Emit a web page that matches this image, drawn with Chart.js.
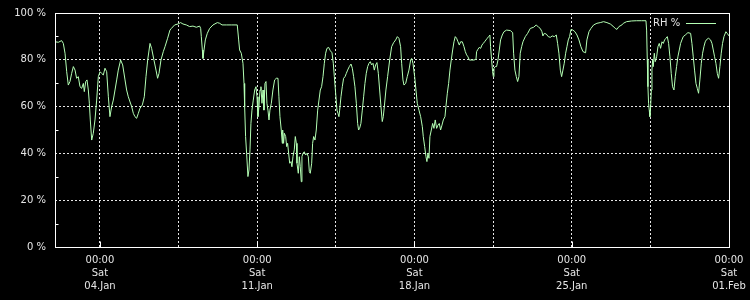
<!DOCTYPE html>
<html>
<head>
<meta charset="utf-8">
<script src="https://cdn.jsdelivr.net/npm/chart.js@4/dist/chart.umd.min.js"></script>
<style>
html,body{margin:0;padding:0;background:#000;}
#wrap{width:750px;height:300px;position:relative;}
canvas{display:block;background:#000;}
</style>
</head>
<body>
<div id="wrap"><canvas id="c" width="750" height="300"></canvas></div>
<script>
// hours since Thu 02.Jan 00:00
const hours = [
0,3.6,7.1,8.9,10.7,12.5,14.2,16.0,17.8,19.6,21.4,23.1,24.9,26.7,28.5,30.3,31.3,32.8,34.2,35.6,36.7,37.7,39.2,40.9,42.7,44.5,46.3,48.1,49.8,51.6,53.4,55.2,57.0,58.7,60.5,62.3,64.1,65.9,67.6,70.1,72.3,74.8,76.5,78.3,81.9,83.7,85.4,87.2,89.0,90.8,93.3,95.4,97.2,99.0,101.5,103.2,105.7,107.9,109.6,111.1,113.2,115.7,117.5,120.3,122.8,
124.3,127.8,131.4,134.2,136.7,140.3,143.8,147.4,151.0,154.5,155.6,156.3,157.4,158.1,159.2,160.6,162.7,165.2,168.8,173.4,175.9,178.4,183.0,188.3,194.7,196.2,197.2,199.0,200.8,201.9,202.6,203.6,204.7,206.1,207.2,208.3,209.3,210.4,211.8,213.3,214.7,215.8,216.8,217.9,219.0,220.0,221.1,222.2,223.2,224.3,225.4,226.4,227.5,228.6,229.6,231.1,232.8,234.6,236.4,238.2,239.2,240.3,241.7,242.8,
243.2,244.2,245.0,246.4,247.5,248.5,249.6,250.7,252.1,253.1,254.2,255.6,256.7,257.8,258.5,259.9,261.0,262.0,263.1,263.8,264.9,266.3,267.7,269.2,270.6,271.7,272.7,274.2,275.2,276.3,277.7,279.1,280.6,282.0,283.4,284.8,286.3,287.7,289.1,290.5,292.3,294.1,295.9,297.3,298.4,299.8,301.2,302.3,303.3,304.1,305.5,306.9,308.3,309.8,311.2,312.6,314.4,316.2,317.6,319.0,320.4,321.9,323.3,324.3,325.4,326.8,328.3,329.7,331.1,332.5,334.0,335.4,336.8,338.2,339.7,341.1,342.5,343.9,345.4,346.8,348.2,349.6,350.7,351.8,353.5,355.3,357.5,359.6,361.7,
363.9,365.7,367.4,369.2,370.3,371.7,372.8,374.6,376.3,378.1,379.9,381.0,382.4,384.2,385.6,387.0,388.8,390.6,392.4,393.4,394.9,396.3,397.3,398.4,399.5,400.5,402.0,403.4,404.8,406.2,407.7,409.1,410.5,411.9,413.4,414.8,416.6,417.6,419.1,420.5,421.9,423.3,424.8,426.2,427.6,429.0,430.5,431.9,433.3,435.1,436.9,438.3,439.7,441.1,442.6,444.7,447.5,449.7,450.4,451.8,453.2,454.7,456.1,457.5,458.9,460.4,461.8,463.2,464.6,465.3,466.4,467.5,468.2,468.9,470.3,471.7,473.2,474.6,476.0,477.8,479.6,482.4,
486.4,488.9,489.9,491.3,492.8,494.2,495.6,497.0,498.5,499.9,502.4,504.9,507.7,511.3,514.1,516.6,518.4,520.2,521.2,522.7,524.8,526.9,529.1,531.2,533.4,535.5,536.9,538.3,539.8,541.2,542.6,544.0,545.5,546.9,548.3,549.7,551.2,553.3,555.4,557.6,559.7,561.8,564.0,566.8,568.2,570.4,572.5,575.4,578.9,582.5,586.0,589.6,593.2,596.0,598.5,600.3,602.4,
605.6,607.1,610.6,616.0,621.3,626.6,631.3,632.0,632.7,633.4,634.1,634.8,635.5,636.3,637.0,637.7,638.4,639.1,640.2,641.2,642.7,644.1,645.5,646.9,648.4,649.8,651.2,652.6,654.1,655.5,656.9,658.3,659.7,661.2,662.6,664.0,665.4,666.9,668.3,669.7,671.1,673.3,676.1,679.0,680.4,681.8,683.2,684.7,686.1,687.5,688.9,690.4,691.8,693.2,694.6,696.1,698.2,700.3,701.8,703.2,704.6,706.0,707.5,708.9,710.3,711.7,713.1,714.6,716.7,718.1,720
];
const rh = [
87.7,87.5,88.2,87.0,82.8,74.9,69.2,70.7,74.2,77.1,75.6,72.1,72.8,68.5,67.8,69.9,66.4,70.7,71.4,67.1,61.4,54.3,45.7,48.6,54.3,62.8,72.8,74.9,74.2,73.5,76.4,74.9,64.2,55.7,60.0,62.8,67.1,71.4,75.6,79.9,77.8,71.4,67.1,64.2,60.0,57.1,55.7,55.0,57.1,59.3,60.7,64.2,72.8,79.9,87.0,84.9,79.9,75.6,72.1,74.2,79.9,83.5,85.6,89.2,92.7,
93.4,94.9,95.3,95.9,95.3,94.9,94.2,94.4,93.9,94.4,93.4,89.9,84.2,80.6,84.2,88.5,91.3,93.4,94.9,95.9,95.6,94.9,94.9,94.9,94.9,88.5,84.2,82.8,78.5,69.9,60.0,47.2,40.0,30.1,32.9,41.5,52.8,58.5,62.8,67.1,68.5,64.2,55.7,60.0,67.1,68.5,61.4,67.1,58.5,69.9,70.7,61.4,58.5,54.3,58.5,61.4,67.1,71.4,72.1,72.1,64.2,55.7,50.0,44.3,
50.0,44.3,48.6,47.2,42.9,44.3,40.0,35.8,36.5,34.3,38.6,41.5,47.2,44.3,35.8,31.5,38.6,34.3,27.9,38.6,40.0,40.7,39.3,40.0,38.6,32.2,31.5,35.8,44.3,47.2,45.7,50.0,58.5,62.8,67.1,68.5,72.8,78.5,82.8,84.9,85.3,83.9,83.0,78.5,72.8,65.7,58.5,57.1,55.7,58.5,64.2,68.5,72.1,72.8,74.2,75.6,77.1,78.2,76.4,72.8,68.5,61.4,52.8,50.0,50.7,52.8,58.5,64.2,69.9,74.2,77.1,78.5,79.2,77.8,78.5,75.6,77.8,78.8,74.2,67.1,60.0,53.6,55.7,60.0,67.1,72.8,79.9,85.6,87.3,
88.5,89.9,89.2,85.6,78.5,71.4,69.2,69.9,72.8,75.6,79.9,80.6,78.5,72.8,67.1,61.4,58.5,55.7,51.4,47.2,42.9,38.6,36.5,40.0,37.9,47.2,50.0,52.8,50.7,54.3,50.7,52.1,52.8,50.0,52.1,54.3,55.7,60.0,65.7,69.9,75.6,79.9,84.2,87.7,89.9,89.2,87.7,86.3,87.7,87.7,85.6,83.5,82.1,81.3,79.9,79.9,79.9,80.2,83.5,84.5,85.3,84.9,86.3,87.0,87.7,88.5,89.2,89.9,90.6,85.6,79.9,74.9,72.8,76.4,77.1,77.1,79.9,84.2,88.5,90.6,92.0,92.7,
92.5,91.6,82.8,75.6,72.8,70.7,72.8,82.8,85.6,87.7,89.9,91.3,93.4,93.9,94.9,93.9,93.4,92.0,90.2,91.3,91.0,89.9,89.6,90.2,89.9,90.6,87.0,82.8,75.6,72.8,75.6,78.5,82.8,85.6,88.5,89.9,93.0,92.7,92.0,90.6,88.5,85.6,83.5,83.0,88.5,92.0,93.4,94.9,95.6,95.9,96.3,95.9,95.3,94.4,93.4,93.0,94.2,
94.9,95.6,96.3,96.6,96.7,96.7,96.7,92.7,79.9,68.5,61.4,58.5,55.7,60.0,67.1,75.6,79.9,77.1,82.8,79.2,81.3,85.6,87.0,84.9,87.7,87.0,88.5,89.2,89.9,87.0,81.3,74.2,68.5,67.1,72.8,77.1,81.3,84.2,87.0,88.5,89.9,90.6,91.6,91.3,87.0,81.3,75.6,69.9,67.8,65.7,71.4,78.5,82.8,85.6,87.7,88.7,89.2,88.5,87.0,84.2,81.3,78.5,74.2,72.1,77.1,82.8,87.0,89.9,92.0,91.3,90.2
];
const seriesLabel = 'RH %';
const xTickHours = [48,132,216,300,384,468,552,636,720];
const xTickLabels = {48:['00:00','Sat','04.Jan'],216:['00:00','Sat','11.Jan'],384:['00:00','Sat','18.Jan'],552:['00:00','Sat','25.Jan'],720:['00:00','Sat','01.Feb']};
const yMajorTicks = [0,20,40,60,80,100];
const yMinorTicks = [10,30,50,70,90];

const FG = '#e6e6e6';
const FONT = 'DejaVu Sans';

const framePlugin = {
  id: 'frame',
  afterDatasetsDraw(chart) {
    const {ctx, chartArea: a, scales} = chart;
    ctx.save();
    ctx.strokeStyle = '#ffffff';
    ctx.lineWidth = 1;
    ctx.setLineDash([]);
    const L = Math.round(a.left) + 0.5, R = Math.round(a.right) + 0.5;
    const T = Math.round(a.top) + 0.5, B = Math.round(a.bottom) + 0.5;
    ctx.strokeRect(L, T, R - L, B - T);
    ctx.beginPath();
    yMinorTicks.forEach(v => {
      const y = Math.round(scales.y.getPixelForValue(v)) + 0.5;
      ctx.moveTo(L, y); ctx.lineTo(L + 3, y);
    });
    Object.keys(xTickLabels).forEach(k => {
      const x = Math.round(scales.x.getPixelForValue(+k)) + 0.5;
      ctx.moveTo(x, B); ctx.lineTo(x, B - 6);
    });
    ctx.stroke();
    ctx.font = '10px "' + FONT + '"';
    ctx.fillStyle = FG;
    ctx.textBaseline = 'middle';
    ctx.textAlign = 'left';
    const ly = Math.round(a.top) + 10;
    ctx.fillText(seriesLabel, a.right - 76, ly);
    ctx.strokeStyle = chart.data.datasets[0].borderColor;
    ctx.beginPath();
    ctx.moveTo(a.right - 43, ly + 0.5);
    ctx.lineTo(a.right - 13, ly + 0.5);
    ctx.stroke();
    ctx.restore();
  }
};

new Chart(document.getElementById('c'), {
  type: 'line',
  data: {
    datasets: [{
      label: seriesLabel,
      data: hours.map((h, i) => ({x: h, y: rh[i]})),
      borderColor: '#b4ffb4',
      borderWidth: 1,
      pointRadius: 0,
      tension: 0,
      fill: false
    }]
  },
  options: {
    responsive: false,
    animation: false,
    layout: {padding: {top: 13, right: 21, left: 0, bottom: 0}},
    plugins: {legend: {display: false}, tooltip: {enabled: false}},
    scales: {
      x: {
        type: 'linear',
        min: 0, max: 720,
        afterBuildTicks: s => { s.ticks = xTickHours.map(v => ({value: v})); },
        afterFit: s => { s.height = 53; s.paddingLeft = 0; s.paddingRight = 0; },
        grid: {color: FG, lineWidth: 1, drawTicks: false},
        border: {display: false, dash: [2, 2]},
        ticks: {
          autoSkip: false, maxRotation: 0, minRotation: 0,
          padding: 7, color: FG,
          font: {family: FONT, size: 10, lineHeight: 1.3},
          callback: v => xTickLabels[v] || ''
        }
      },
      y: {
        min: 0, max: 100,
        afterBuildTicks: s => { s.ticks = yMajorTicks.map(v => ({value: v})); },
        afterFit: s => { s.width = 55; s.paddingTop = 0; s.paddingBottom = 0; },
        grid: {color: FG, lineWidth: 1, drawTicks: false},
        border: {display: false, dash: [2, 2]},
        ticks: {
          padding: 9, color: FG,
          font: {family: FONT, size: 10},
          callback: v => v + ' %'
        }
      }
    }
  },
  plugins: [framePlugin]
});
</script>
</body>
</html>
